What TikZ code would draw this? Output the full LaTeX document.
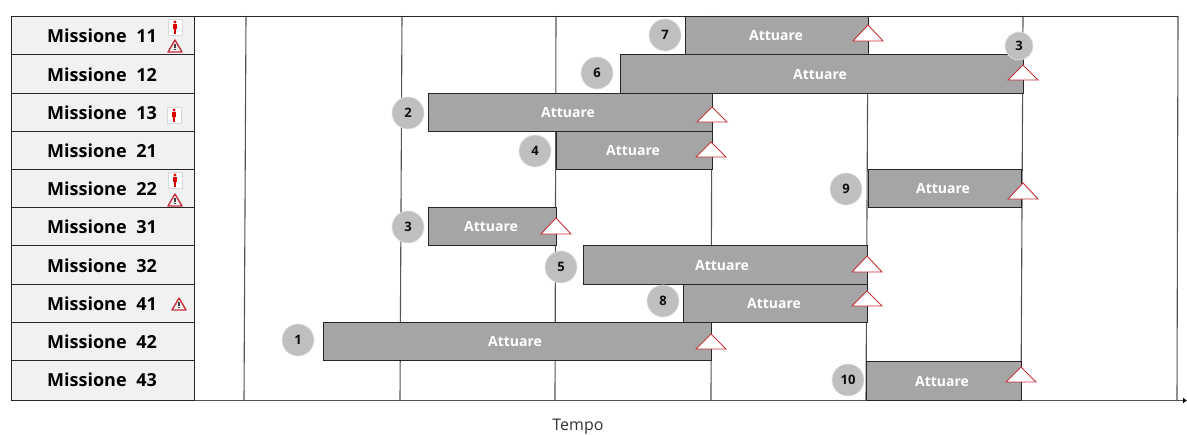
\documentclass[tikz,border=0pt]{standalone}
\usepackage{fontspec}
\setmainfont{Open Sans}
\usetikzlibrary{arrows.meta}
\definecolor{rowgray}{HTML}{F1F1F1}
\definecolor{bargray}{HTML}{A5A5A5}
\definecolor{circgray}{HTML}{BFBFBF}
\definecolor{alarmred}{HTML}{C8323C}
\definecolor{gridgray}{HTML}{555555}
\tikzset{
  x=1pt,y=-1pt,
  rowbox/.style={draw=black!85,line width=.9pt,fill=rowgray},
  rowtext/.style={inner sep=0pt,anchor=base west,font=\fontsize{18}{20}\selectfont\bfseries,text=black},
  barbox/.style={draw=black!85,line width=.9pt,fill=bargray},
  bartext/.style={inner sep=0pt,font=\fontsize{14}{16}\selectfont\bfseries,text=white},
  badge/.style={circle,draw=black!12,line width=.7pt,fill=circgray,minimum size=32pt,inner sep=0pt,font=\fontsize{13}{15}\selectfont\bfseries,text=black!95},
  badgesm/.style={badge,minimum size=28pt},
  gridline/.style={draw=gridgray,line width=1.1pt},
  miletri/.style={draw=alarmred,line width=.9pt,fill=white,line join=miter},
}
\newcommand{\mybar}[6]{% name, x1, y1, x2, y2, textx
  \draw[barbox] (#2,#3) rectangle (#4,#5);
  \node[bartext] (#1) at (#6,{(#3+#5)/2+1}) {Attuare};
}
\newcommand{\mytri}[3]{% cx, apex y, base y
  \draw[miletri] (#1-15,#3) -- (#1,#2) -- (#1+15,#3) -- cycle;
}
\newcommand{\myperson}[2]{% cx, cy
  \fill[white,draw=black!15,line width=.5pt] (#1-7,#2-8) rectangle (#1+7,#2+8);
  \fill[red!85!black] (#1,#2-5) circle (1.6);
  \fill[red!85!black] (#1-2,#2-3) rectangle (#1+2,#2+2);
  \fill[red!85!black] (#1-1.2,#2+2) rectangle (#1+1.2,#2+7);
}
\newcommand{\mywarn}[2]{% cx, cy
  \draw[alarmred,line width=1.4pt,line join=round] (#1-7,#2+6) -- (#1,#2-6) -- (#1+7,#2+6) -- cycle;
  \fill[black!75] (#1-.6,#2-2) rectangle (#1+.6,#2+2.2);
  \fill[black!75] (#1-.6,#2+3) rectangle (#1+.6,#2+4.4);
}
\begin{document}
\begin{tikzpicture}
\useasboundingbox (0,0) rectangle (1187,435);
% grid
\coordinate (g1t) at (246,16); \coordinate (g1b) at (244,400);
\coordinate (g2t) at (402,16); \coordinate (g2b) at (400,400);
\coordinate (g3t) at (556,16); \coordinate (g3b) at (555,400);
\coordinate (g4t) at (712,16); \coordinate (g4b) at (711,400);
\coordinate (g5t) at (868,16); \coordinate (g5b) at (866,400);
\coordinate (g6t) at (1023,16); \coordinate (g6b) at (1021,400);
\coordinate (g7t) at (1178,16); \coordinate (g7b) at (1177,400);
\foreach \i in {1,...,7} \draw[gridline] (g\i t) -- (g\i b);
\coordinate (topl) at (11,16); \coordinate (topr) at (1178,16);
\draw[black!85,line width=.9pt] (topl) -- (topr);
\coordinate (axl) at (11,400.5); \coordinate (axr) at (1187,400.5);
\draw[gridgray,line width=1pt,-{Latex[length=4pt,width=6pt,black]}] (axl) -- (axr);
\node[inner sep=0pt,font=\fontsize{16}{18}\selectfont,text=black!80] (tempo) at (578,427) {Tempo};
% rows
\foreach \a/\b in {16/54,54/93,93/131,131/169,169/207,207/245,245/284,284/322,322/360,360/400}
  \draw[rowbox] (11,\a) rectangle (194,\b);
\node[rowtext] (m11) at (47,43) {Missione\hspace{5pt} 11};
\node[rowtext] (m12) at (47,82) {Missione\hspace{5pt} 12};
\node[rowtext] (m13) at (47,120) {Missione\hspace{5pt} 13};
\node[rowtext] (m21) at (47,158) {Missione\hspace{5pt} 21};
\node[rowtext] (m22) at (47,196) {Missione\hspace{5pt} 22};
\node[rowtext] (m31) at (47,234) {Missione\hspace{5pt} 31};
\node[rowtext] (m32) at (47,273) {Missione\hspace{5pt} 32};
\node[rowtext] (m41) at (47,311) {Missione\hspace{5pt} 41};
\node[rowtext] (m42) at (47,349) {Missione\hspace{5pt} 42};
\node[rowtext] (m43) at (47,387) {Missione\hspace{5pt} 43};
% icons
\myperson{175}{27}\mywarn{175}{46}
\myperson{174}{115}
\myperson{175}{180}\mywarn{175}{200}
\mywarn{179}{304}
% bars
\mybar{b7}{685}{16}{868}{54}{776}
\mybar{b6}{620}{54}{1023}{93}{820}
\mybar{b2}{428}{93}{712}{131}{568}
\mybar{b4}{556}{131}{712}{169}{633}
\mybar{b9}{868}{169}{1021}{207}{943}
\mybar{b3}{428}{207}{556}{245}{491}
\mybar{b5}{583}{245}{867}{284}{722}
\mybar{b8}{683}{284}{867}{322}{774}
\mybar{b1}{323}{322}{711}{360}{515}
\mybar{b10}{866}{361}{1021}{400}{942}
% milestones
\mytri{868}{25}{41}
\mytri{1023}{65}{80}
\mytri{712}{107}{122}
\mytri{711}{142}{157}
\mytri{1023}{183}{199}
\mytri{556}{218}{234}
\mytri{867}{256}{272}
\mytri{867}{291}{306}
\mytri{711}{334}{349}
\mytri{1021}{367}{382}
% badges
\node[badge] (c7) at (665,35) {7};
\node[badge] (c6) at (597,73) {6};
\node[badge] (c2) at (408,113) {2};
\node[badge] (c4) at (535,151) {4};
\node[badge] (c9) at (846,189) {9};
\node[badge] (c3) at (408,227) {3};
\node[badge] (c5) at (561,267) {5};
\node[badge] (c8) at (663,301) {8};
\node[badge] (c1) at (298,340) {1};
\node[badge] (c10) at (848,380) {10};
\node[badgesm] (c3b) at (1019,46) {3};
\end{tikzpicture}
\end{document}
